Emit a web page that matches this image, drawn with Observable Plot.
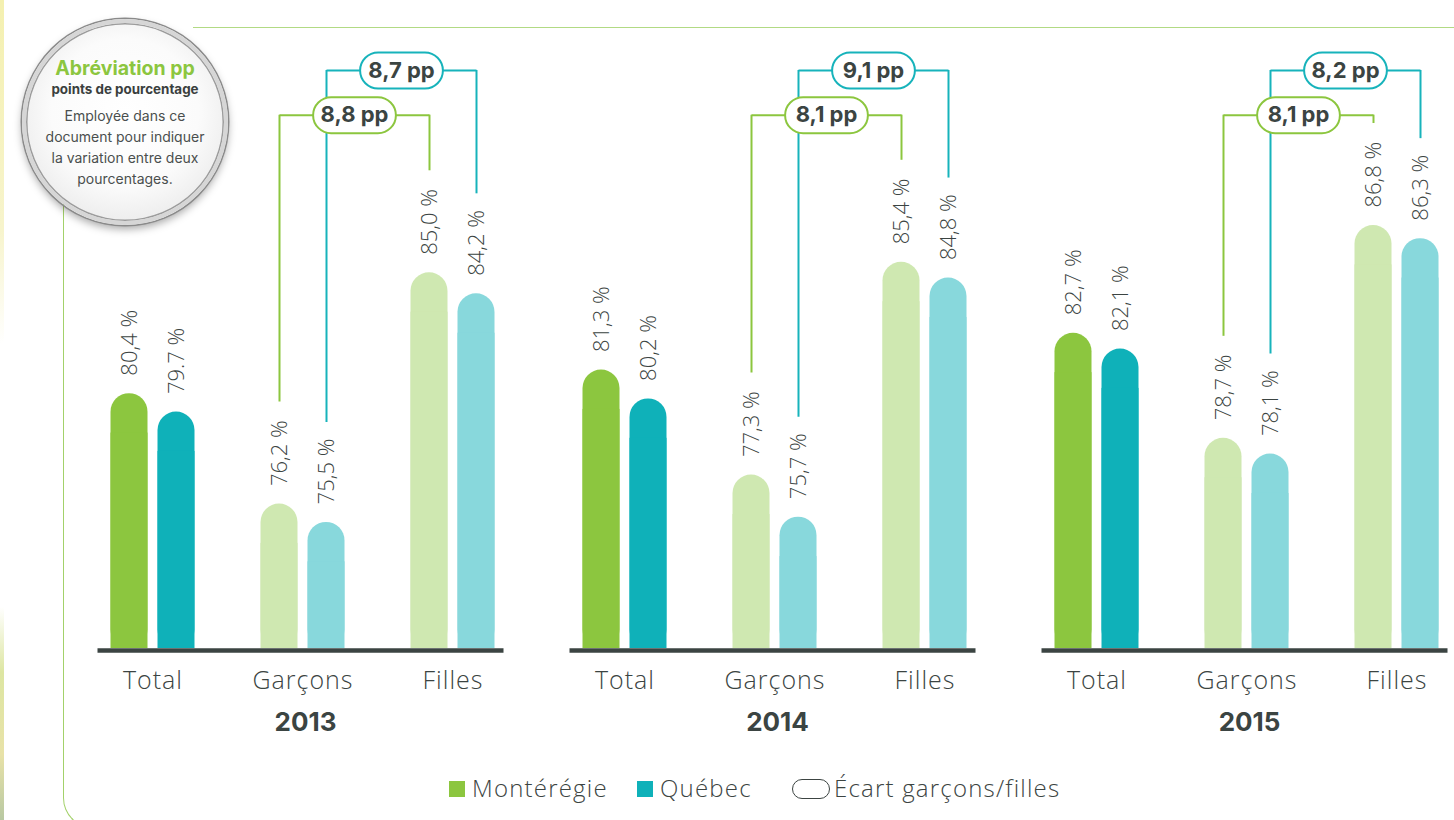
<!DOCTYPE html>
<html><head><meta charset="utf-8">
<script src="https://cdn.jsdelivr.net/npm/d3@7"></script>
<script src="https://cdn.jsdelivr.net/npm/@observablehq/plot@0.6"></script>
<style>
html,body{margin:0;padding:0;background:#fff;overflow:hidden;width:1454px;height:820px;}
body{position:relative;font-family:"Open Sans",Inter,sans-serif;color:#3c4442;}
#strip{position:absolute;left:0;top:0;width:4px;height:820px;background:linear-gradient(to bottom,#f4f0b0 0%,#f7f4cc 28%,#ffffff 42%,#ffffff 74%,#dde6a2 82%,#e8e2a8 92%,#b8c8a2 100%);}
#panelTop{position:absolute;left:193px;top:27px;width:1300px;height:0;border-top:1.5px solid #b2da84;}
#panelLeft{position:absolute;left:63px;top:190px;width:200px;height:637px;border-left:1.5px solid #a3d16a;border-bottom:1.5px solid #a3d16a;border-bottom-left-radius:30px;}
#chart{position:absolute;left:0;top:0;}
#badge{position:absolute;left:22px;top:19px;width:206px;height:206px;border-radius:50%;box-sizing:border-box;
 background:radial-gradient(circle at 50% 45%,#ffffff 0%,#fbfbfb 50%,#e9e9e9 82%,#cfcfcf 100%);
 border:4px solid #d6d6d6;box-shadow:0 0 0 1.5px #8a8a8a,inset 0 0 0 1.5px #9c9c9c,0 4px 9px rgba(0,0,0,0.35);}
.bt{position:absolute;left:22px;width:206px;text-align:center;white-space:nowrap;font-family:Inter,sans-serif;}
#t1{top:56px;line-height:24px;font-size:19.5px;font-weight:700;color:#8cc63f;}
#t2{top:80px;line-height:18px;font-size:13.4px;font-weight:700;color:#3a3f3e;}
#t3{top:104.5px;line-height:21px;font-size:14px;font-weight:400;color:#4a4f4e;}
.lg{position:absolute;font-size:24px;font-weight:300;line-height:30px;top:773px;color:#3c4442;white-space:nowrap;font-family:"Open Sans",sans-serif;letter-spacing:1.2px;}
.sq{position:absolute;width:16px;height:16px;top:781px;}
#pillLg{position:absolute;left:792px;top:779px;width:38px;height:20px;box-sizing:border-box;border:1.6px solid #3c4442;border-radius:10px;}
</style></head><body>
<div id="strip"></div>
<div id="panelTop"></div>
<div id="panelLeft"></div>
<div id="chart"></div>
<div id="badge"></div>
<div class="bt" id="t1">Abréviation pp</div>
<div class="bt" id="t2">points de pourcentage</div>
<div class="bt" id="t3">Employée dans ce<br>document pour indiquer<br>la variation entre deux<br>pourcentages.</div>
<div class="sq" style="left:449px;background:#8cc63f"></div>
<div class="lg" style="left:472px">Montérégie</div>
<div class="sq" style="left:637px;background:#0fb1b9"></div>
<div class="lg" style="left:660px">Québec</div>
<div id="pillLg"></div>
<div class="lg" style="left:834px">Écart garçons/filles</div>
<script>
// ---- data ----
const years = [2013, 2014, 2015];
const categories = ["Total", "Garçons", "Filles"];
const regions = ["Montérégie", "Québec"];
const monteregie = [[80.4, 76.2, 85.0], [81.3, 77.3, 85.4], [82.7, 78.7, 86.8]];
const quebec = [[79.7, 75.5, 84.2], [80.2, 75.7, 84.8], [82.1, 78.1, 86.3]];
const monteregieLabels = [["80,4 %", "76,2 %", "85,0 %"], ["81,3 %", "77,3 %", "85,4 %"], ["82,7 %", "78,7 %", "86,8 %"]];
const quebecLabels = [["79.7 %", "75,5 %", "84,2 %"], ["80,2 %", "75,7 %", "84,8 %"], ["82,1 %", "78,1 %", "86,3 %"]];
const ecartMonteregie = ["8,8 pp", "8,1 pp", "8,1 pp"];
const ecartQuebec = ["8,7 pp", "9,1 pp", "8,2 pp"];

// ---- tables ----
const bars = [];
years.forEach((yr, i) => categories.forEach((c, j) => {
  bars.push({year: yr, cat: c, region: regions[0], value: monteregie[i][j], label: monteregieLabels[i][j]});
  bars.push({year: yr, cat: c, region: regions[1], value: quebec[i][j], label: quebecLabels[i][j]});
}));
bars.forEach(d => d.shade = (d.region === regions[0] ? "M" : "Q") + (d.cat === "Total" ? "-total" : "-sub"));
const barsM = bars.filter(d => d.region === regions[0]);
const barsQ = bars.filter(d => d.region === regions[1]);
const gapRows = years.map((yr, i) => ({year: yr, m: ecartMonteregie[i], q: ecartQuebec[i]}));
const catRows = years.flatMap(yr => categories.map(c => ({year: yr, cat: c})));

const yMin = 70.7, yMax = 92.7, levelM = 91.0, levelQ = yMax;
const GREEN = "#8cc63f", TEAL = "#17b3bb", DARK = "#3b4442";
const LIGHT = "'Open Sans', Inter, sans-serif", BOLD = "Inter, sans-serif";
const pill = {draw(ctx, size) {
  const r = Math.sqrt(size / Math.PI), w = r * 2.3;
  ctx.moveTo(-w + r, -r); ctx.lineTo(w - r, -r);
  ctx.arc(w - r, 0, r, -Math.PI / 2, Math.PI / 2);
  ctx.lineTo(-w + r, r);
  ctx.arc(-w + r, 0, r, Math.PI / 2, 3 * Math.PI / 2);
  ctx.closePath();
}};
const OFF = 23.5;
const sub = d => d.cat !== "Total";

const chart = Plot.plot({
  width: 1454, height: 760,
  marginTop: 70, marginBottom: 112, marginLeft: 76.5, marginRight: -17.5,
  style: {fontFamily: LIGHT, color: DARK, background: "transparent"},
  fx: {domain: years, paddingInner: 0.047619, paddingOuter: 0, axis: null},
  x: {domain: categories, padding: 0, axis: null},
  y: {domain: [yMin, yMax], axis: null},
  color: {domain: ["M-total", "M-sub", "Q-total", "Q-sub"], range: ["#8cc63f", "#cfe8b1", "#0fb1b9", "#88d8dc"]},
  marks: [
    // bars (rounded top + square bottom)
    Plot.barY(barsM, {fx: "year", x: "cat", y1: () => yMin, y2: "value", fill: "shade", insetLeft: 33, insetRight: 80, rx: 18.5}),
    Plot.barY(barsM, {fx: "year", x: "cat", y1: () => yMin, y2: d => d.value - 1.5, fill: "shade", insetLeft: 33, insetRight: 80}),
    Plot.barY(barsQ, {fx: "year", x: "cat", y1: () => yMin, y2: "value", fill: "shade", insetLeft: 80, insetRight: 33, rx: 18.5}),
    Plot.barY(barsQ, {fx: "year", x: "cat", y1: () => yMin, y2: d => d.value - 1.5, fill: "shade", insetLeft: 80, insetRight: 33}),
    // baseline
    Plot.ruleY([yMin], {stroke: DARK, strokeWidth: 4.5, dy: 2, insetLeft: 20.5, insetRight: 23.5}),
    // value labels
    Plot.text(barsM, {fx: "year", x: "cat", y: "value", text: "label", dx: -OFF, dy: -18, rotate: -90, textAnchor: "start", lineAnchor: "middle", fontSize: 22, fontWeight: 300, fontFamily: LIGHT, fill: DARK}),
    Plot.text(barsQ, {fx: "year", x: "cat", y: "value", text: "label", dx: OFF, dy: -18, rotate: -90, textAnchor: "start", lineAnchor: "middle", fontSize: 22, fontWeight: 300, fontFamily: LIGHT, fill: DARK}),
    // bracket verticals
    Plot.ruleX(barsM.filter(sub), {fx: "year", x: "cat", y1: () => levelM, y2: "value", dx: -OFF, insetBottom: 102, stroke: GREEN, strokeWidth: 2}),
    Plot.ruleX(barsQ.filter(sub), {fx: "year", x: "cat", y1: () => levelQ, y2: "value", dx: OFF, insetBottom: 100, stroke: TEAL, strokeWidth: 2}),
    // bracket horizontals
    Plot.link(gapRows, {fx: "year", x1: () => "Garçons", x2: () => "Filles", y1: () => levelM, y2: () => levelM, dx: -OFF, stroke: GREEN, strokeWidth: 2}),
    Plot.link(gapRows, {fx: "year", x1: () => "Garçons", x2: () => "Filles", y1: () => levelQ, y2: () => levelQ, dx: OFF, stroke: TEAL, strokeWidth: 2}),
    // pills
    Plot.dot(gapRows, {fx: "year", x: () => "Filles", y: () => levelM, dx: -75 - OFF, r: 18, symbol: pill, fill: "white", stroke: GREEN, strokeWidth: 2}),
    Plot.dot(gapRows, {fx: "year", x: () => "Filles", y: () => levelQ, dx: -75 + OFF, r: 18, symbol: pill, fill: "white", stroke: TEAL, strokeWidth: 2}),
    Plot.text(gapRows, {fx: "year", x: () => "Filles", y: () => levelM, dx: -75 - OFF, text: "m", fontSize: 22, fontWeight: 700, fontFamily: BOLD, fill: DARK}),
    Plot.text(gapRows, {fx: "year", x: () => "Filles", y: () => levelQ, dx: -75 + OFF, text: "q", fontSize: 22, fontWeight: 700, fontFamily: BOLD, fill: DARK}),
    // category & year labels
    Plot.text(catRows, {fx: "year", x: "cat", text: "cat", frameAnchor: "bottom", lineAnchor: "middle", dy: 32, fontSize: 25, fontWeight: 300, fontFamily: LIGHT, fill: DARK}),
    Plot.text(years, {fx: d => d, text: d => String(d), frameAnchor: "bottom", lineAnchor: "middle", dy: 74, dx: 3, fontSize: 26, fontWeight: 700, fontFamily: BOLD, fill: DARK})
  ]
});
// slightly wider tracking for the category labels (Poppins-like width)
chart.querySelectorAll("text").forEach(t => {
  if (categories.includes(t.textContent)) t.setAttribute("letter-spacing", "1px");
});
document.getElementById("chart").appendChild(chart);
</script>
</body></html>
